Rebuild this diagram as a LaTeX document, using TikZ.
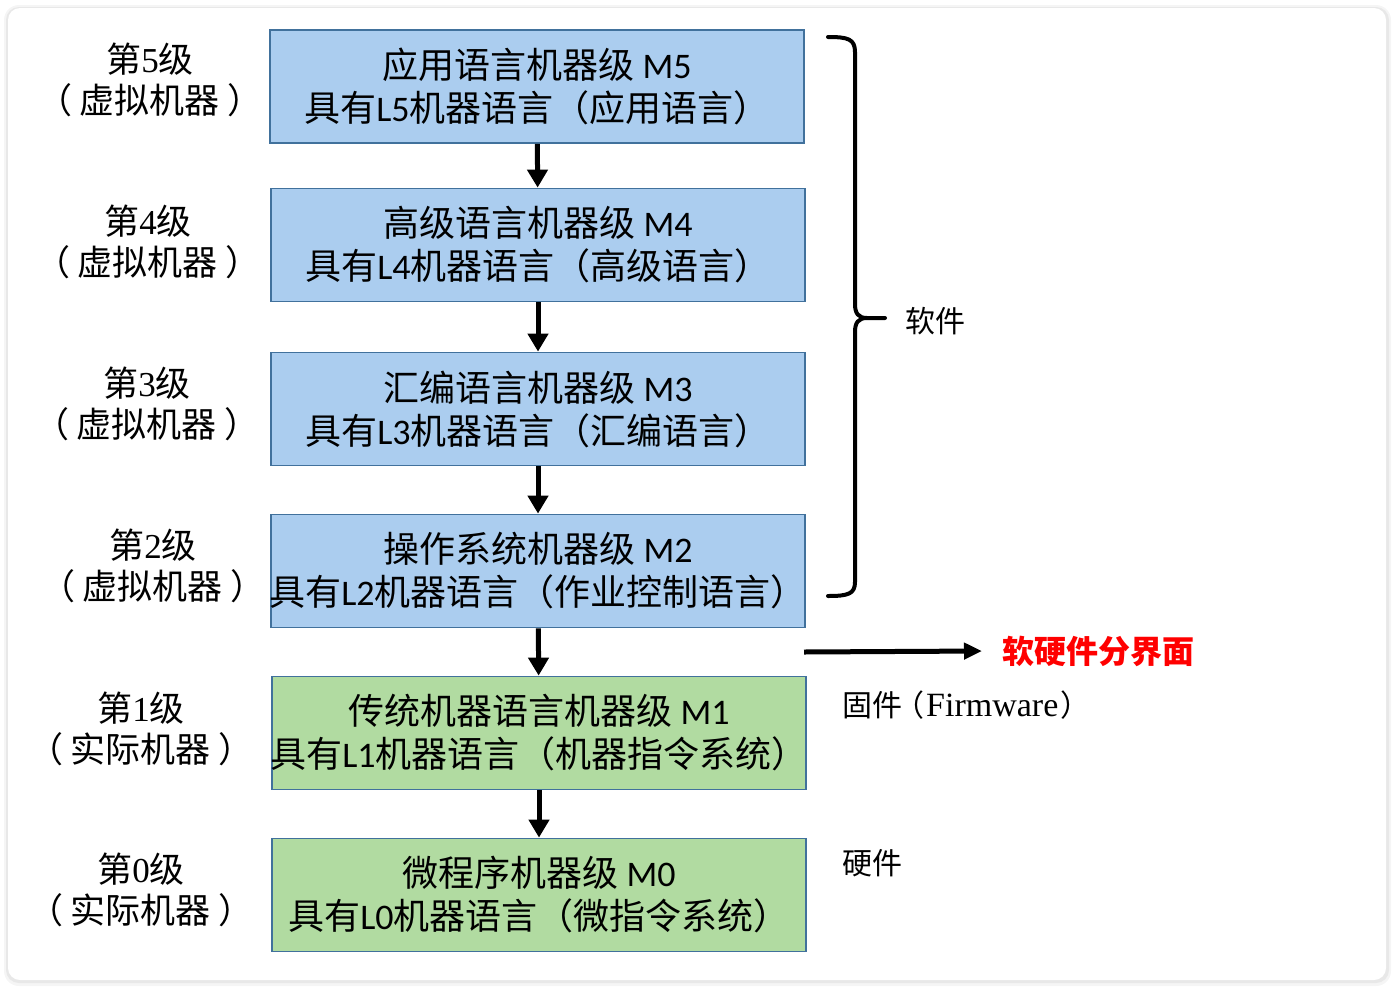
\documentclass[tikz,border=0pt]{standalone}
\usepackage{fontspec}
\setmainfont{Noto Sans CJK SC}
\newfontfamily\calfont{Carlito}
\newfontfamily\tmsfont{Liberation Serif}
\usetikzlibrary{arrows.meta}
\newcommand\lat[1]{{\calfont #1}}
\newcommand\rom[1]{{\tmsfont #1}}
\newcommand\lpar{（\kern8pt}
\newcommand\rpar{\kern8pt）}
\newcommand\bline[1]{\makebox[0pt][c]{#1}}
\definecolor{boxline}{RGB}{65,113,156}
\definecolor{bluefill}{RGB}{171,205,239}
\definecolor{greenfill}{RGB}{177,219,161}
\definecolor{sepred}{RGB}{255,0,0}
\tikzset{
  lvbox/.style={draw=boxline, line width=1.8pt, minimum width=534pt, minimum height=113pt,
    align=center, inner sep=0pt, font=\fontsize{36}{43}\selectfont},
  bluebox/.style={lvbox, fill=bluefill},
  greenbox/.style={lvbox, fill=greenfill},
  lvlabel/.style={align=center, inner sep=0pt, font=\fontsize{35}{41}\selectfont},
  sidelabel/.style={inner sep=0pt, font=\fontsize{30}{36}\selectfont},
  arr/.style={line width=5pt, -{Triangle[length=18pt,width=20pt]}},
  bracepath/.style={line width=4pt, line join=round, line cap=round},
}
\begin{document}
\begin{tikzpicture}[x=1pt,y=-1pt]
\useasboundingbox (0,0) rectangle (1394,988);
% card with shadow
\fill[black!4, rounded corners=15] (4,5) rectangle (1391,986);
\fill[black!9, rounded corners=13] (6,7) rectangle (1389,983);
\fill[white, rounded corners=12] (8,8) rectangle (1386,980);

% level boxes
\node[bluebox] (m5) at (537,86.5) {\bline{应用语言机器级 \lat{M5}}\\\bline{具有\lat{L5}机器语言（应用语言）}};
\node[bluebox] (m4) at (538,245) {\bline{高级语言机器级 \lat{M4}}\\\bline{具有\lat{L4}机器语言（高级语言）}};
\node[bluebox] (m3) at (538,409) {\bline{汇编语言机器级 \lat{M3}}\\\bline{具有\lat{L3}机器语言（汇编语言）}};
\node[bluebox] (m2) at (538,571) {\bline{操作系统机器级 \lat{M2}}\\\bline{具有\lat{L2}机器语言（作业控制语言）}};
\node[greenbox] (m1) at (539,733) {\bline{传统机器语言机器级 \lat{M1}}\\\bline{具有\lat{L1}机器语言（机器指令系统）}};
\node[greenbox] (m0) at (539,895) {\bline{微程序机器级 \lat{M0}}\\\bline{具有\lat{L0}机器语言（微指令系统）}};

\draw[arr] (m5) -- (m4);
\draw[arr] (m4) -- (m3);
\draw[arr] (m3) -- (m2);
\draw[arr] (m2) -- (m1);
\draw[arr] (m1) -- (m0);

% left labels
\node[lvlabel] (l5) at (150,80) {第\rom{5}级\\\lpar 虚拟机器\rpar};
\node[lvlabel] (l4) at (148,242) {第\rom{4}级\\\lpar 虚拟机器\rpar};
\node[lvlabel] (l3) at (147,404) {第\rom{3}级\\\lpar 虚拟机器\rpar};
\node[lvlabel] (l2) at (153,566) {第\rom{2}级\\\lpar 虚拟机器\rpar};
\node[lvlabel] (l1) at (141,729) {第\rom{1}级\\\lpar 实际机器\rpar};
\node[lvlabel] (l0) at (141,890) {第\rom{0}级\\\lpar 实际机器\rpar};

% brace for software
\draw[bracepath] (828,37) .. controls (848,37) and (855,39) .. (855,52)
  -- (855,304) .. controls (855,313) and (858,318) .. (867,318) -- (885,318)
  -- (867,318) .. controls (858,318) and (855,323) .. (855,332)
  -- (855,582) .. controls (855,594) and (848,596) .. (828,596);
\node[sidelabel] (sw) at (935,321) {软件};

% software/hardware interface
\coordinate (b1) at (804,652);
\node[sidelabel, anchor=west, inner xsep=20pt, text=sepred, font=\fontsize{32}{36}\selectfont\bfseries] (sep) at (982,651) {软硬件分界面};
\draw[line width=5pt, -{Triangle[length=18pt,width=16pt]}] (b1) -- (sep.west);

\node[sidelabel, anchor=west] (fw) at (842,705) {固件\kern-8pt（\kern2pt{\tmsfont\fontsize{34}{36}\selectfont Firmware}\kern2pt）};
\node[sidelabel, anchor=west] (hw) at (842,863) {硬件};
\end{tikzpicture}
\end{document}
